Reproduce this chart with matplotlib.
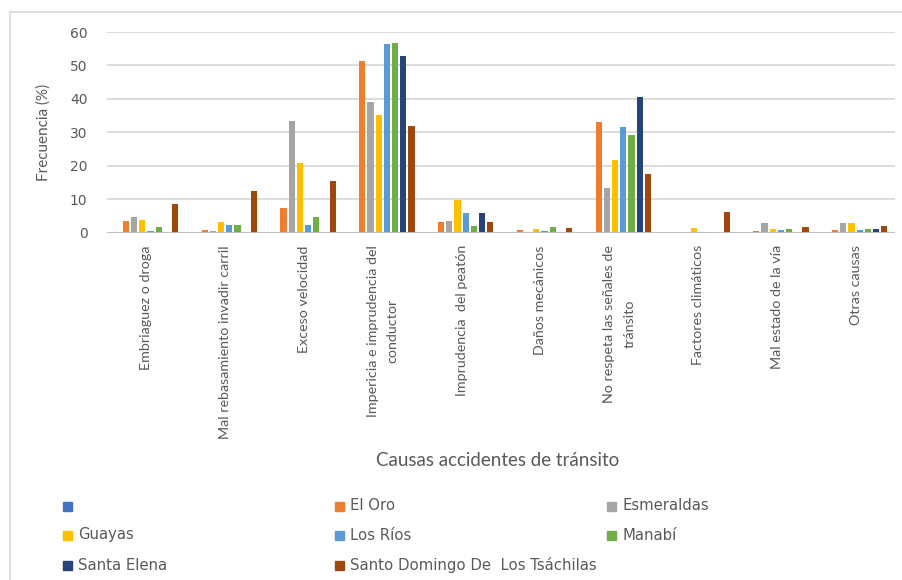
import numpy as np
import matplotlib.pyplot as plt
from matplotlib.patches import Rectangle

# Causas (eje x)
causas = [
    "Embriaguez o droga",
    "Mal rebasamiento invadir carril",
    "Exceso velocidad",
    "Impericia e imprudencia del\nconductor",
    "Imprudencia  del peatón",
    "Daños mecánicos",
    "No respeta las señales de\ntránsito",
    "Factores climáticos",
    "Mal estado de la vía",
    "Otras causas",
]

# Frecuencia (%) por provincia
sin_nombre = [0, 0, 0, 0, 0, 0, 0, 0, 0, 0]
el_oro = [3.5, 0.7, 7.4, 51.3, 3.2, 0.7, 33.2, 0, 0.4, 0.8]
esmeraldas = [4.6, 0.6, 33.5, 39.1, 3.5, 0, 13.5, 0, 2.9, 2.9]
guayas = [3.8, 3.3, 20.8, 35.2, 9.8, 1.0, 21.6, 1.4, 1.0, 3.0]
los_rios = [0.6, 2.3, 2.2, 56.4, 5.8, 0.5, 31.6, 0.3, 0.7, 0.8]
manabi = [1.7, 2.3, 4.8, 56.7, 2.0, 1.6, 29.2, 0.3, 1.0, 1.0]
santa_elena = [0, 0, 0, 52.9, 5.8, 0, 40.6, 0, 0, 1.0]
santo_domingo = [8.5, 12.4, 15.4, 32.0, 3.2, 1.4, 17.6, 6.3, 1.6, 2.0]

provincias = ["", "El Oro", "Esmeraldas", "Guayas", "Los Ríos", "Manabí",
              "Santa Elena", "Santo Domingo De  Los Tsáchilas"]
series = [sin_nombre, el_oro, esmeraldas, guayas, los_rios, manabi,
          santa_elena, santo_domingo]
colores = ["#4472C4", "#ED7D31", "#A5A5A5", "#FFC000", "#5B9BD5", "#70AD47",
           "#264478", "#9E480E"]

W, H = 903, 580
fig = plt.figure(figsize=(W / 100, H / 100), dpi=100)

# marco del grafico
fig.patches.append(Rectangle((10 / W, -0.1), 1.2, 1.1 - 12 / H, transform=fig.transFigure,
                             fill=False, edgecolor="#D9D9D9", linewidth=1.2))

ax = fig.add_axes([107 / W, 1 - 232.7 / H, 788 / W, 200.7 / H])

x = np.arange(len(causas))
paso = 0.104
ancho = 0.08
for i, (vals, col) in enumerate(zip(series, colores)):
    ax.bar(x + (i - 3.5) * paso, vals, width=ancho, color=col, zorder=3)

ax.set_xlim(-0.5, len(causas) - 0.5)
ax.set_ylim(0, 60)
ax.set_yticks(range(0, 61, 10))
ax.grid(axis="y", color="#D9D9D9", linewidth=1.3, zorder=0)
ax.axhline(0, color="#BFBFBF", linewidth=1.3, zorder=4)
for s in ax.spines.values():
    s.set_visible(False)

ax.tick_params(axis="y", length=0, pad=14, labelsize=10, labelcolor="#595959")
ax.tick_params(axis="x", length=0, pad=9)
ax.set_xticks(x)
ax.set_xticklabels(causas, rotation=90, ha="center", va="top", multialignment="center",
                   fontsize=10.3, color="#595959", family="Lato", linespacing=1.8)

ax.set_ylabel("Frecuencia (%)", fontsize=11, color="#595959", family="Lato")
ax.yaxis.set_label_coords(-0.072, 0.5)

fig.text(498 / W, 1 - 461 / H, "Causas accidentes de tránsito", ha="center", va="center",
         fontsize=13.5, color="#595959", family="Lato")

# leyenda en 3 columnas, orden por filas como en Excel
col_x = [63, 335, 607]
fila_y = [506, 535, 565]
for k, (nombre, col) in enumerate(zip(provincias, colores)):
    cx = col_x[k % 3]
    cy = fila_y[k // 3]
    fig.patches.append(Rectangle((cx / W, 1 - (cy + 4.5) / H), 9 / W, 9 / H,
                                 transform=fig.transFigure, color=col))
    fig.text((cx + 15) / W, 1 - cy / H, nombre, ha="left", va="center",
             fontsize=10.7, color="#595959")

fig.savefig("out.png", dpi=100)
